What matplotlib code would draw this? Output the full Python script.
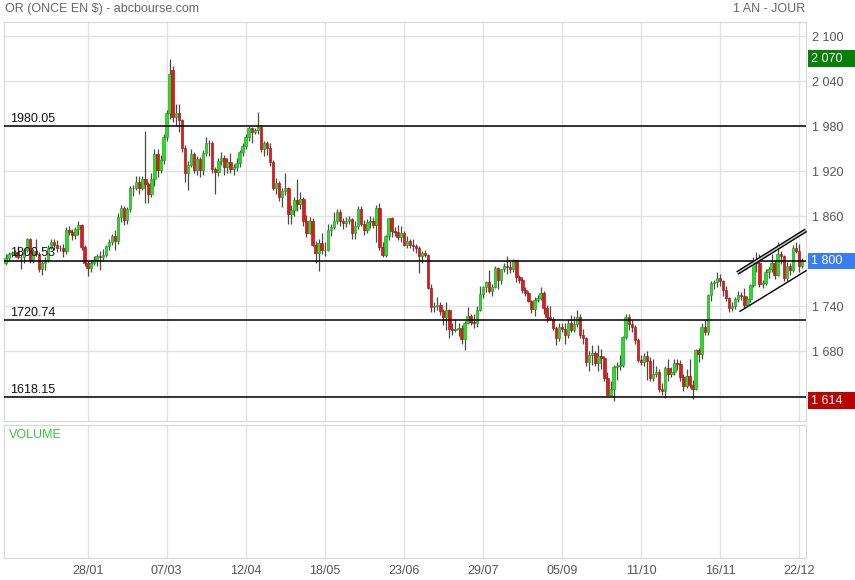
import matplotlib
matplotlib.use("Agg")
import matplotlib.pyplot as plt
import pandas as pd
from matplotlib.patches import Rectangle
from matplotlib.transforms import blended_transform_factory

plt.rcParams["font.family"] = ["Liberation Sans", "DejaVu Sans"]

# daily bars, 22/12/2021 -> 23/12/2022
dates = pd.bdate_range("2021-12-22", "2022-12-23")

opens = [
    1798, 1804, 1809, 1811, 1812, 1805, 1805, 1815,
    1829, 1801, 1814, 1810, 1789, 1797, 1801, 1818, 1826, 1821, 1817, 1818, 1813, 1841, 1839, 1835, 1843, 1848, 1819, 1797, 1791,
    1797, 1801, 1807, 1805, 1808, 1820, 1826, 1833, 1827, 1859, 1871, 1855, 1869, 1898, 1897, 1905, 1898, 1910, 1903, 1889,
    1909, 1943, 1922, 1935, 1966, 1998, 2055, 1992, 1998, 1988, 1951, 1917, 1928, 1943, 1921, 1936, 1921, 1944, 1958, 1957, 1923, 1919, 1933,
    1937, 1925, 1932, 1923, 1925, 1931, 1946, 1954, 1966, 1977, 1972, 1975, 1979, 1949, 1958, 1951, 1932, 1898, 1904, 1886, 1894,
    1897, 1863, 1868, 1881, 1876, 1883, 1854, 1838, 1853, 1821, 1811, 1824, 1815, 1815, 1842, 1846, 1853, 1865, 1853, 1851, 1853, 1856,
    1837, 1847, 1869, 1850, 1841, 1852, 1853, 1848, 1871, 1819, 1808, 1834, 1857, 1840, 1839, 1832, 1838, 1822, 1827, 1822, 1820, 1817,
    1807, 1811, 1808, 1764, 1739, 1740, 1742, 1733, 1725, 1735, 1709, 1708, 1709, 1711, 1696, 1718, 1727, 1719, 1717, 1735, 1756,
    1766, 1772, 1760, 1765, 1791, 1775, 1789, 1794, 1792, 1789, 1802, 1779, 1775, 1761, 1758, 1747, 1736, 1748, 1751, 1758, 1737, 1725, 1723,
    1711, 1697, 1712, 1710, 1702, 1718, 1708, 1716, 1725, 1702, 1697, 1665, 1675, 1677, 1664, 1674, 1671, 1644, 1622, 1629, 1659, 1660,
    1661, 1699, 1725, 1716, 1712, 1695, 1668, 1666, 1673, 1667, 1644, 1650, 1652, 1629, 1627, 1657, 1649, 1652, 1664, 1663, 1645,
    1634, 1647, 1635, 1629, 1681, 1676, 1712, 1706, 1755, 1771, 1772, 1777, 1774, 1761, 1751, 1738, 1740, 1749, 1755, 1754, 1741, 1749,
    1768, 1801, 1797, 1769, 1771, 1786, 1789, 1797, 1781, 1810, 1807, 1777, 1793, 1788, 1817, 1814, 1793,
]
highs = [
    1810, 1812, 1813, 1815, 1820, 1810, 1817, 1831,
    1831, 1816, 1829, 1812, 1800, 1805, 1822, 1830, 1829, 1828, 1822, 1823, 1845, 1847, 1843, 1845, 1853, 1850, 1821, 1800, 1801,
    1807, 1809, 1813, 1816, 1822, 1829, 1836, 1841, 1864, 1875, 1873, 1872, 1900, 1902, 1913, 1914, 1914, 1974, 1906, 1917,
    1950, 1950, 1941, 1970, 2002, 2070, 2060, 2010, 2009, 1990, 1955, 1934, 1950, 1946, 1940, 1939, 1948, 1966, 1962, 1960, 1925, 1938, 1945,
    1942, 1937, 1944, 1930, 1937, 1948, 1958, 1970, 1980, 1979, 1977, 1999, 1982, 1960, 1960, 1957, 1935, 1911, 1907, 1898, 1918,
    1899, 1875, 1886, 1909, 1892, 1885, 1861, 1859, 1858, 1827, 1830, 1838, 1825, 1849, 1850, 1866, 1869, 1869, 1858, 1859, 1860, 1858,
    1854, 1874, 1874, 1855, 1856, 1860, 1859, 1875, 1877, 1825, 1835, 1858, 1859, 1846, 1848, 1847, 1840, 1833, 1830, 1829, 1823, 1820,
    1813, 1815, 1810, 1770, 1745, 1752, 1745, 1736, 1745, 1736, 1718, 1723, 1717, 1715, 1720, 1739, 1730, 1730, 1740, 1767, 1767,
    1774, 1788, 1769, 1793, 1792, 1790, 1797, 1807, 1800, 1803, 1802, 1781, 1779, 1766, 1760, 1748, 1752, 1755, 1765, 1760, 1742, 1740, 1726,
    1714, 1718, 1717, 1718, 1723, 1728, 1727, 1735, 1730, 1710, 1699, 1680, 1688, 1680, 1688, 1683, 1673, 1652, 1640, 1661, 1665, 1675,
    1700, 1730, 1729, 1722, 1715, 1697, 1675, 1678, 1680, 1672, 1669, 1660, 1656, 1638, 1660, 1670, 1659, 1669, 1670, 1668, 1650,
    1656, 1669, 1642, 1683, 1684, 1717, 1722, 1756, 1773, 1775, 1786, 1783, 1775, 1767, 1752, 1745, 1752, 1760, 1759, 1764, 1754, 1770,
    1805, 1812, 1810, 1775, 1790, 1792, 1810, 1800, 1825, 1814, 1808, 1799, 1797, 1822, 1826, 1823, 1804,
]
lows = [
    1795, 1800, 1806, 1806, 1803, 1790, 1797, 1812,
    1798, 1798, 1807, 1786, 1782, 1788, 1799, 1816, 1815, 1812, 1814, 1805, 1810, 1835, 1828, 1829, 1835, 1815, 1793, 1780, 1785,
    1795, 1794, 1788, 1800, 1805, 1815, 1822, 1815, 1823, 1852, 1848, 1850, 1865, 1887, 1895, 1890, 1895, 1878, 1878, 1885,
    1900, 1912, 1918, 1930, 1960, 1990, 1985, 1980, 1972, 1945, 1906, 1895, 1925, 1917, 1915, 1912, 1915, 1940, 1940, 1918, 1890, 1913, 1928,
    1915, 1918, 1918, 1915, 1920, 1925, 1940, 1950, 1960, 1958, 1970, 1970, 1945, 1940, 1942, 1927, 1895, 1890, 1880, 1872, 1888,
    1850, 1850, 1860, 1867, 1870, 1847, 1832, 1836, 1820, 1798, 1787, 1810, 1807, 1814, 1834, 1843, 1850, 1847, 1843, 1845, 1849, 1830,
    1829, 1843, 1847, 1835, 1837, 1844, 1844, 1826, 1815, 1805, 1805, 1828, 1832, 1834, 1828, 1825, 1820, 1818, 1817, 1814, 1811, 1784,
    1797, 1805, 1763, 1732, 1732, 1735, 1728, 1715, 1708, 1697, 1702, 1705, 1700, 1690, 1681, 1716, 1715, 1711, 1712, 1733, 1751,
    1759, 1758, 1754, 1764, 1763, 1770, 1785, 1783, 1784, 1785, 1772, 1771, 1758, 1753, 1745, 1731, 1727, 1745, 1748, 1729, 1719, 1721, 1708,
    1688, 1693, 1706, 1690, 1698, 1705, 1706, 1712, 1697, 1690, 1660, 1654, 1662, 1660, 1654, 1656, 1640, 1621, 1620, 1614, 1642, 1655,
    1659, 1696, 1708, 1705, 1690, 1665, 1661, 1660, 1642, 1640, 1640, 1645, 1626, 1621, 1617, 1640, 1645, 1648, 1655, 1640, 1627,
    1631, 1631, 1616, 1628, 1665, 1669, 1702, 1702, 1747, 1763, 1765, 1767, 1754, 1747, 1732, 1733, 1736, 1745, 1748, 1738, 1740, 1746,
    1766, 1786, 1765, 1764, 1768, 1778, 1786, 1776, 1780, 1796, 1773, 1773, 1782, 1785, 1811, 1785, 1791,
]
closes = [
    1804, 1809, 1811, 1812, 1805, 1805, 1815, 1829,
    1801, 1814, 1810, 1789, 1797, 1801, 1818, 1826, 1821, 1817, 1818, 1813, 1841, 1839, 1835, 1843, 1848, 1819, 1797, 1791, 1797,
    1801, 1807, 1805, 1808, 1820, 1826, 1833, 1827, 1859, 1871, 1855, 1869, 1898, 1897, 1905, 1898, 1910, 1903, 1889, 1909,
    1943, 1922, 1935, 1966, 1998, 2050, 1992, 1998, 1988, 1951, 1917, 1928, 1943, 1921, 1936, 1921, 1944, 1958, 1957, 1923, 1919, 1933, 1937,
    1925, 1932, 1923, 1925, 1931, 1946, 1954, 1966, 1977, 1972, 1975, 1979, 1949, 1958, 1951, 1932, 1898, 1904, 1886, 1894, 1897,
    1863, 1868, 1881, 1876, 1883, 1854, 1838, 1853, 1821, 1811, 1824, 1815, 1815, 1842, 1846, 1853, 1865, 1853, 1851, 1853, 1856, 1837,
    1847, 1869, 1850, 1841, 1852, 1853, 1848, 1871, 1819, 1808, 1834, 1857, 1840, 1839, 1832, 1838, 1822, 1827, 1822, 1820, 1817, 1807,
    1811, 1808, 1764, 1739, 1740, 1742, 1733, 1725, 1735, 1709, 1708, 1709, 1711, 1696, 1718, 1727, 1719, 1717, 1735, 1756, 1766,
    1772, 1760, 1765, 1791, 1775, 1789, 1794, 1792, 1789, 1802, 1779, 1775, 1761, 1758, 1747, 1736, 1748, 1751, 1758, 1737, 1725, 1723, 1711,
    1697, 1712, 1710, 1702, 1718, 1708, 1716, 1725, 1702, 1697, 1665, 1675, 1677, 1664, 1674, 1671, 1644, 1622, 1629, 1659, 1660, 1661,
    1699, 1725, 1716, 1712, 1695, 1668, 1666, 1673, 1667, 1644, 1650, 1652, 1629, 1627, 1657, 1649, 1652, 1664, 1663, 1645, 1634,
    1647, 1635, 1629, 1681, 1676, 1712, 1706, 1755, 1771, 1772, 1777, 1774, 1761, 1751, 1738, 1740, 1749, 1755, 1754, 1741, 1749, 1768,
    1797, 1797, 1769, 1771, 1786, 1789, 1797, 1781, 1810, 1807, 1777, 1793, 1788, 1817, 1814, 1793, 1800,
]

tick_dates = ["2022-01-28", "2022-03-07", "2022-04-12", "2022-05-18", "2022-06-23",
              "2022-07-29", "2022-09-05", "2022-10-11", "2022-11-16", "2022-12-22"]
tick_labels = ["28/01", "07/03", "12/04", "18/05", "23/06", "29/07", "05/09", "11/10", "16/11", "22/12"]
price_ticks = [1620, 1680, 1740, 1800, 1860, 1920, 1980, 2040, 2100]
levels = [1980.05, 1800.53, 1720.74, 1618.15]
# channel drawn on the right (bar index, price)
channel_top_x = [240.7, 263.3]
channel_top_y = [1784, 1841]
channel_bot_x = [241.6, 263.3]
channel_bot_y = [1733, 1787]

W, H = 855, 580
fig = plt.figure(figsize=(W / 100, H / 100), dpi=100)
ax = fig.add_axes([4 / W, 1 - 421 / H, 802 / W, 399 / H])
vax = fig.add_axes([4 / W, 1 - 558 / H, 802 / W, 133 / H])

idx = list(range(len(dates)))
pos = [dates.get_loc(pd.Timestamp(d)) for d in tick_dates]

grid_c = "#e2e2e2"
for a in (ax, vax):
    a.set_xlim(-0.5, 263.3)
    a.set_xticks(pos)
    a.grid(True, axis="x", color=grid_c, lw=1)
    a.set_axisbelow(True)
    for s in a.spines.values():
        s.set_color("#d6d6d6")
ax.grid(True, axis="y", color=grid_c, lw=1)

ax.set_ylim(1586.7, 2118.7)
ax.yaxis.tick_right()
ax.set_yticks(price_ticks)
ax.set_yticklabels([f"{v:,}".replace(",", " ") for v in price_ticks])
ax.tick_params(axis="y", length=0, pad=4, labelcolor="#555555", labelsize=9)
ax.tick_params(axis="x", length=0, labelbottom=False)

vax.set_yticks([])
vax.set_xticklabels(tick_labels)
vax.tick_params(axis="x", length=0, pad=5, labelcolor="#555555", labelsize=9)
vax.text(0.006, 0.97, "VOLUME", transform=vax.transAxes, color="#3cc43c",
         fontsize=9, va="top", ha="left")

# candles
up = [c >= o for o, c in zip(opens, closes)]
ax.vlines(idx, lows, highs, color="#4a4a4a", lw=0.9, zorder=3)
body_h = [c - o for o, c in zip(opens, closes)]
face = ["#22e022" if u else "#e41818" for u in up]
edge = ["#239a23" if u else "#9e1717" for u in up]
ax.bar(idx, body_h, bottom=opens, width=0.82, color=face, edgecolor=edge,
       linewidth=0.45, zorder=4)

# support / resistance levels
lbl_tf = blended_transform_factory(ax.transAxes, ax.transData)
for lv in levels:
    ax.axhline(lv, color="black", lw=1.1, zorder=5)
    ax.annotate(f"{lv:.2f}", (0, lv), xycoords=lbl_tf, xytext=(4.5, 3),
                textcoords="offset points", fontsize=9, color="#111111",
                va="baseline", ha="left", zorder=6)

# trend channel
ax.plot(channel_top_x, channel_top_y, color="black", lw=3.0, zorder=6,
        solid_capstyle="butt", clip_on=False)
ax.plot(channel_top_x, channel_top_y, color="#cccccc", lw=1.0, zorder=7,
        solid_capstyle="butt", clip_on=False)
ax.plot(channel_bot_x, channel_bot_y, color="black", lw=1.0, zorder=6, clip_on=False)

# price flags on the right axis
flag_tf = blended_transform_factory(fig.transFigure, ax.transData)
flags = [(max(highs), "#088008"), (closes[-1], "#3a7cf2"), (min(lows), "#bb0000")]
for val, col in flags:
    ax.add_patch(Rectangle((808 / W, val - 11), 47 / W, 22, transform=flag_tf,
                           facecolor=col, edgecolor="none", clip_on=False, zorder=10))
    ax.text(811 / W, val, f"{val:,}".replace(",", " "), transform=flag_tf,
            color="white", fontsize=9, va="center", ha="left", zorder=11, clip_on=False)

fig.text(5 / W, 1 - 9 / H, "OR (ONCE EN $) - abcbourse.com", color="#666666",
         fontsize=9, va="center", ha="left")
fig.text(805 / W, 1 - 9 / H, "1 AN - JOUR", color="#666666", fontsize=9,
         va="center", ha="right")

fig.savefig("out.png", dpi=100)
